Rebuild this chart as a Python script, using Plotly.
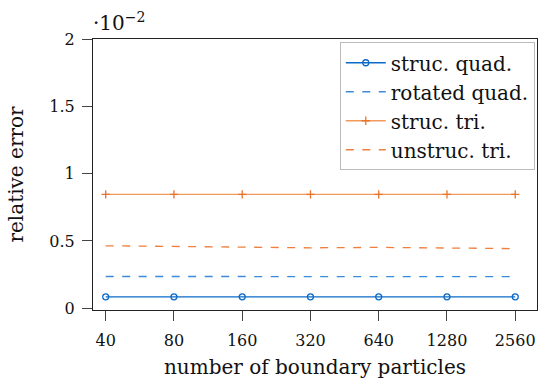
import numpy as np
import plotly.graph_objects as go

# boundary particle counts (log2-spaced)
particles = [40, 80, 160, 320, 640, 1280, 2560]
tick_labels = ["40", "80", "160", "320", "640", "1280", "2560"]

# relative error for each discretisation
struc_quad = [0.00085, 0.00085, 0.00085, 0.00085, 0.00085, 0.00085, 0.00085]
rotated_quad = [0.00236, 0.00235, 0.00235, 0.00235, 0.00235, 0.00235, 0.00235]
struc_tri = [0.00846, 0.00846, 0.00846, 0.00846, 0.00846, 0.00846, 0.00846]
unstruc_tri = [0.00464, 0.00458, 0.00452, 0.00449, 0.00452, 0.00449, 0.00443]

scale = 1e-2  # y axis shown in units of 10^-2
FONT = "DejaVu Serif"
TICK_FS = 16
TITLE_FS = 20
LEGEND_FS = 20
DASH = "8px,8.5px"


def scaled(v):
    return [x / scale for x in v]


fig = go.Figure()
fig.add_trace(go.Scatter(
    x=particles, y=scaled(struc_quad), name="struc. quad.",
    mode="lines+markers",
    line=dict(color="#0a6ac8", width=1.3),
    marker=dict(symbol="circle-open", size=6, color="#0a6ac8", line=dict(width=1.3)),
))
fig.add_trace(go.Scatter(
    x=particles, y=scaled(rotated_quad), name="rotated quad.",
    mode="lines",
    line=dict(color="#3f8ad8", width=1.3, dash=DASH),
))
fig.add_trace(go.Scatter(
    x=particles, y=scaled(struc_tri), name="struc. tri.",
    mode="lines+markers",
    line=dict(color="#f29a5e", width=1.4),
    marker=dict(symbol="cross-thin-open", size=6, color="#e8742c", line=dict(width=1.3)),
))
fig.add_trace(go.Scatter(
    x=particles, y=scaled(unstruc_tri), name="unstruc. tri.",
    mode="lines",
    line=dict(color="#ee7f3e", width=1.3, dash=DASH),
))

axis_common = dict(
    showgrid=False, zeroline=False, showline=True, linecolor="#222",
    linewidth=1.2, mirror=True, ticks="outside", ticklen=10, tickcolor="#444",
    tickwidth=1.1,
    tickfont=dict(family=FONT, size=TICK_FS, color="#111"),
)

fig.update_layout(
    width=540, height=379,
    margin=dict(l=93, r=3, t=39, b=69),
    paper_bgcolor="white", plot_bgcolor="white",
    font=dict(family=FONT, size=TICK_FS, color="#111"),
    showlegend=True,
    legend=dict(
        x=0.995, y=0.988, xanchor="right", yanchor="top",
        bgcolor="white", bordercolor="#bbb", borderwidth=1,
        font=dict(family=FONT, size=LEGEND_FS, color="#111"),
        tracegroupgap=0, itemwidth=40,
    ),
    xaxis=dict(
        type="log", range=[np.log10(40) - 0.056, np.log10(2560) + 0.096],
        tickvals=particles, ticktext=tick_labels, ticklabelstandoff=6,
        title=dict(text="number of boundary particles",
                   font=dict(family=FONT, size=TITLE_FS), standoff=10),
        **axis_common,
    ),
    yaxis=dict(
        range=[-0.013, 2], tickvals=[0, 0.5, 1, 1.5, 2],
        ticktext=["0", "0.5", "1", "1.5", "2"], ticklabelstandoff=4,
        title=dict(text="relative error", font=dict(family=FONT, size=TITLE_FS), standoff=20),
        **axis_common,
    ),
    annotations=[dict(
        x=0, y=1, xref="paper", yref="paper", xanchor="left", yanchor="bottom",
        text="·10<sup>−2</sup>", showarrow=False, xshift=-2, yshift=2,
        font=dict(family=FONT, size=TITLE_FS, color="#111"),
    )],
)

fig.write_html("out.html")
